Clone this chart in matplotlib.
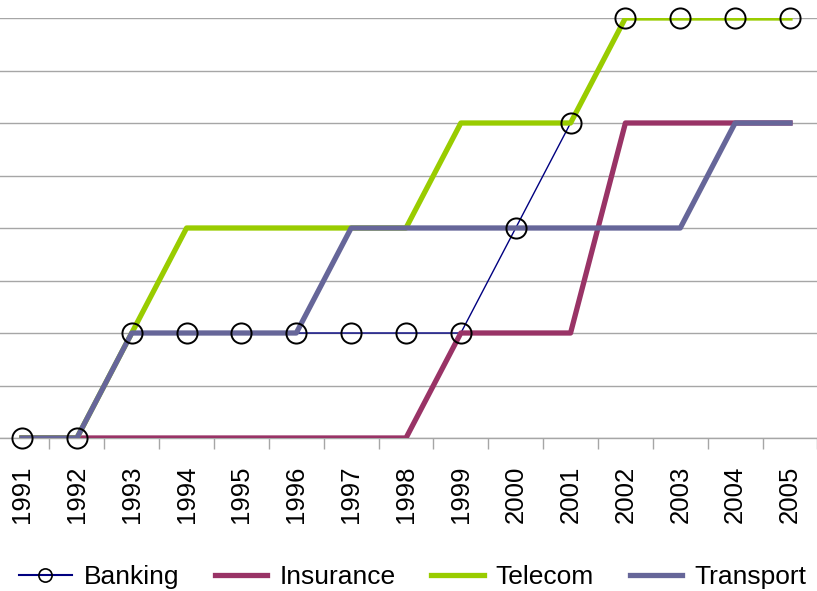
import matplotlib
matplotlib.use("Agg")
import matplotlib.pyplot as plt
from matplotlib.lines import Line2D
import numpy as np

plt.rcParams['font.family'] = ['Liberation Sans', 'DejaVu Sans']

years = [str(y) for y in range(1991, 2006)]
banking = [0, 0, 2, 2, 2, 2, 2, 2, 2, 4, 6, 8, 8, 8, 8]
insurance = [0, 0, 0, 0, 0, 0, 0, 0, 2, 2, 2, 6, 6, 6, 6]
telecom = [0, 0, 2, 4, 4, 4, 4, 4, 6, 6, 6, 8, 8, 8, 8]
transport = [0, 0, 2, 2, 2, 2, 4, 4, 4, 4, 4, 4, 4, 6, 6]

fig = plt.figure(figsize=(8.17, 5.91), dpi=100)
W, H = 817, 591
left_px, right_px = -5.4, 817.4
top_px, bottom_px = 18, 438
ax = fig.add_axes([left_px / W, 1 - bottom_px / H,
                   (right_px - left_px) / W, (bottom_px - top_px) / H])

x = np.arange(len(years))
ax.plot(x, banking, color='#000080', lw=1.0, zorder=2)
ax.plot(x, insurance, color='#993366', lw=3.8, zorder=3)
ax.plot(x, telecom, color='#99CC00', lw=3.8, zorder=4)
ax.plot(x, transport, color='#666699', lw=3.8, zorder=5)
# banking markers sit on top of the thick lines
ax.plot(x, banking, ls='none', marker='o', ms=14.5, mfc='none',
        mec='black', mew=1.4, zorder=6, clip_on=False)

ax.set_xlim(-0.5, len(years) - 0.5)
ax.set_ylim(0, 8)
ax.set_yticks(range(0, 9))
ax.yaxis.grid(True, color='#a6a6a6', lw=1.0, zorder=0)
ax.tick_params(axis='y', left=False, labelleft=False)
ax.set_axisbelow(True)

ax.set_xticks(x)
ax.set_xticklabels(years, rotation=90, fontsize=18.5)
ax.set_xticks(np.arange(-0.5, len(years), 1), minor=True)
ax.tick_params(axis='x', which='major', length=0, pad=20)
ax.tick_params(axis='x', which='minor', length=8, color='#a6a6a6', width=1.0)

for s in ['top', 'left', 'right']:
    ax.spines[s].set_visible(False)
ax.spines['bottom'].set_color('#a6a6a6')
ax.spines['bottom'].set_linewidth(1.0)

handles = [
    Line2D([], [], color='#000080', lw=1.5, marker='o', ms=9.5, mfc='none', mec='black', mew=1.2),
    Line2D([], [], color='#993366', lw=3.8),
    Line2D([], [], color='#99CC00', lw=3.8),
    Line2D([], [], color='#666699', lw=3.8),
]
fig.legend(handles, ['Banking', 'Insurance', 'Telecom', 'Transport'],
           loc='center', bbox_to_anchor=(0.505, 1 - 577 / H), ncol=4,
           frameon=False, fontsize=19, handlelength=2.0, handletextpad=0.45,
           columnspacing=1.35, borderpad=0, borderaxespad=0)

fig.savefig('out.png', dpi=100)
